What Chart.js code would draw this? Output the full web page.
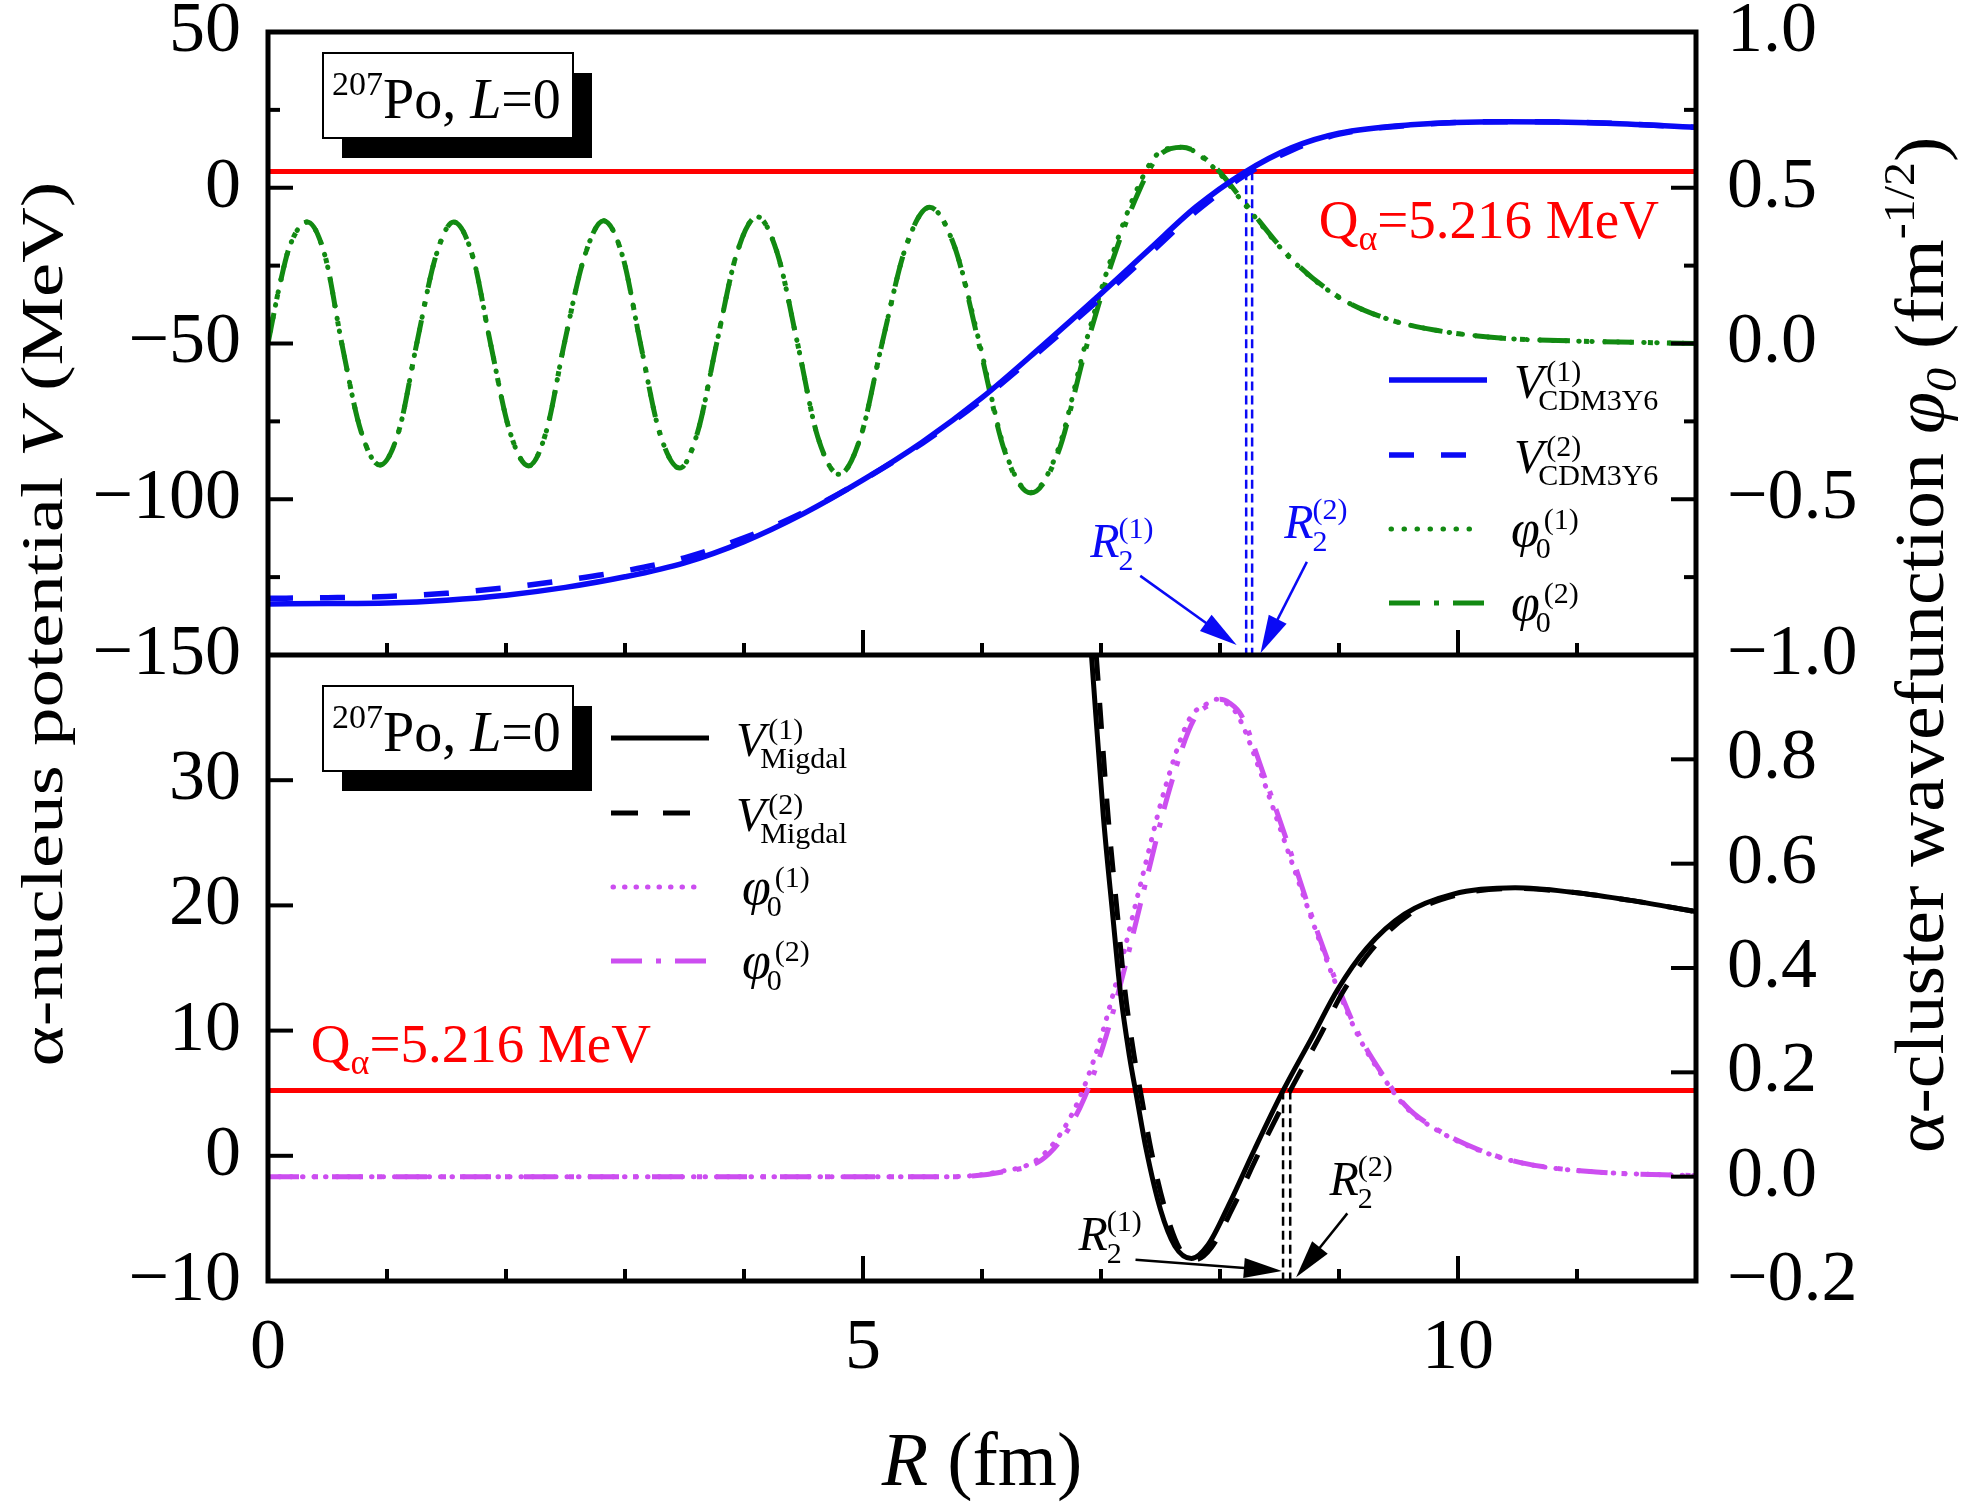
<!DOCTYPE html>
<html>
<head>
<meta charset="utf-8">
<script src="https://cdn.jsdelivr.net/npm/chart.js@4.4.1/dist/chart.umd.min.js"></script>
<style>
  html, body { margin: 0; padding: 0; background: #fff; }
  #wrap { width: 1965px; height: 1511px; }
</style>
</head>
<body>
<div id="wrap"><canvas id="chart" width="1965" height="1511"></canvas></div>
<script>
// values
const qAlpha = 5.216;

// upper panel, V_CDM3Y6 (MeV)
const rCdm = [0, 0.5, 1, 1.5, 2, 2.5, 3, 3.5, 4, 4.5, 5, 5.5, 6, 6.5, 7, 7.4, 7.8, 8.2, 8.6, 9.0, 9.6, 10.4, 11.2, 12];
const vCdm1 = [-133.6, -133.5, -133.3, -132.4, -130.8, -128.3, -124.9, -120.4, -113.6, -104.6, -93.8, -81.6, -67.4, -51.0, -34.0, -20.0, -6.1, 4.8, 12.8, 17.5, 20.2, 21.2, 20.8, 19.4];
const vCdm2 = [-131.8, -131.6, -131.2, -130.2, -128.4, -126.0, -123.0, -118.8, -112.4, -104.2, -93.8, -82.0, -68.0, -52.0, -35.3, -21.5, -7.6, 3.8, 12.0, 17.2, 20.1, 21.2, 20.8, 19.4];

// upper panel, phi_0 (fm^-1/2)
const rPhiTop = [0, 0.10, 0.18, 0.33, 0.48, 0.62, 0.78, 0.94, 1.10, 1.25, 1.41, 1.56, 1.72, 1.87, 2.03, 2.19, 2.34, 2.49, 2.66, 2.82, 2.98, 3.13, 3.29, 3.46, 3.61, 3.77, 3.94, 4.11, 4.28, 4.45, 4.62, 4.80, 4.98, 5.16, 5.36, 5.56, 5.77, 5.98, 6.19, 6.41, 6.64, 6.87, 7.10, 7.32, 7.48, 7.68, 7.96, 8.20, 8.59, 8.99, 9.39, 9.79, 10.38, 10.98, 12];
const phiTop1 = [0.00, 0.19, 0.31, 0.39, 0.28, 0.00, -0.28, -0.39, -0.28, 0.00, 0.28, 0.39, 0.28, 0.00, -0.28, -0.393, -0.28, 0.00, 0.28, 0.394, 0.28, 0.00, -0.285, -0.40, -0.285, 0.00, 0.29, 0.407, 0.29, 0.00, -0.30, -0.42, -0.30, 0.00, 0.31, 0.437, 0.31, 0.00, -0.34, -0.478, -0.34, 0.00, 0.29, 0.51, 0.61, 0.63, 0.56, 0.45, 0.274, 0.150, 0.081, 0.044, 0.017, 0.008, 0.0];
const phiTop2 = [0.00, 0.19, 0.31, 0.39, 0.28, 0.00, -0.28, -0.39, -0.28, 0.00, 0.28, 0.39, 0.28, 0.00, -0.28, -0.393, -0.28, 0.00, 0.28, 0.394, 0.28, 0.00, -0.285, -0.40, -0.285, 0.00, 0.29, 0.407, 0.29, 0.00, -0.30, -0.42, -0.30, 0.00, 0.31, 0.437, 0.31, -0.01, -0.345, -0.48, -0.35, -0.02, 0.27, 0.49, 0.60, 0.63, 0.565, 0.455, 0.276, 0.151, 0.081, 0.044, 0.017, 0.008, 0.0];

// lower panel, V_Migdal (MeV)
const rMig1 = [6.92, 7.02, 7.10, 7.16, 7.24, 7.30, 7.38, 7.50, 7.62, 7.76, 7.90, 8.07, 8.29, 8.53, 8.77, 8.99, 9.23, 9.55, 9.96, 10.48, 10.96, 11.45, 12];
const vMig1 = [40, 27.1, 19.1, 13.3, 7.9, 4.7, 0.5, -4.3, -7.2, -8.2, -7.1, -4.0, 0.5, 5.2, 9.4, 13.3, 16.55, 19.3, 20.9, 21.4, 21.05, 20.4, 19.5];
const rMig2 = [6.96, 7.06, 7.14, 7.20, 7.28, 7.34, 7.42, 7.54, 7.66, 7.79, 7.93, 8.11, 8.34, 8.59, 8.83, 9.04, 9.27, 9.58, 9.98, 10.48, 10.96, 11.45, 12];
const vMig2 = [40, 27.1, 19.1, 13.3, 7.9, 4.7, 0.5, -4.3, -7.4, -8.3, -7.3, -4.1, 0.5, 5.2, 9.4, 13.2, 16.4, 19.2, 20.8, 21.35, 21.05, 20.4, 19.5];

// lower panel, phi_0 (fm^-1/2)
const rPhiBot1 = [0, 3, 5.73, 6.13, 6.46, 6.66, 6.82, 6.98, 7.14, 7.34, 7.54, 7.74, 7.90, 7.97, 8.05, 8.15, 8.35, 8.55, 8.75, 8.95, 9.15, 9.35, 9.55, 9.76, 10.16, 10.56, 11.16, 12];
const phiBot1 = [0, 0, 0, 0.009, 0.032, 0.082, 0.151, 0.252, 0.383, 0.568, 0.746, 0.876, 0.908, 0.915, 0.908, 0.884, 0.769, 0.638, 0.507, 0.383, 0.275, 0.198, 0.136, 0.098, 0.052, 0.025, 0.009, 0.002];
const rPhiBot2 = [0, 3, 5.77, 6.17, 6.50, 6.70, 6.86, 7.02, 7.18, 7.38, 7.58, 7.78, 7.94, 8.00, 8.08, 8.18, 8.37, 8.57, 8.76, 8.96, 9.16, 9.36, 9.56, 9.77, 10.17, 10.57, 11.16, 12];
const phiBot2 = [0, 0, 0, 0.009, 0.032, 0.082, 0.151, 0.252, 0.383, 0.568, 0.746, 0.876, 0.908, 0.915, 0.908, 0.884, 0.769, 0.638, 0.507, 0.383, 0.275, 0.198, 0.136, 0.098, 0.052, 0.025, 0.009, 0.002];

// classical turning points R2(1), R2(2)
const r2Top = [8.22, 8.27];
const r2Bot = [8.53, 8.59];

// ticks
const xTicks = [0, 5, 10];
const xMinor = [1, 2, 3, 4, 6, 7, 8, 9, 11];
const vTopTicks = [50, 0, -50, -100, -150];
const vTopMinor = [25, -25, -75, -125];
const wTopTicks = [1.0, 0.5, 0.0, -0.5, -1.0];
const wTopMinor = [0.75, 0.25, -0.25, -0.75];
const vBotTicks = [30, 20, 10, 0, -10];
const wBotTicks = [0.8, 0.6, 0.4, 0.2, 0.0, -0.2];

const BLUE = '#0a0af5';
const GREEN = '#128a12';
const PINK = '#cc4ef0';
const RED = '#ff0000';
const SERIF = '"Liberation Serif", "Times New Roman", serif';

const pts = (xs, ys) => xs.map((x, i) => ({x, y: ys[i]}));
const minus = s => s.replace('-', '\u2212');

const line = (data, yAxisID, color, width, dash, cap) => ({
  data, yAxisID, borderColor: color, borderWidth: width,
  borderDash: dash || [], borderCapStyle: cap || 'butt',
  cubicInterpolationMode: 'monotone', pointRadius: 0, fill: false
});

const DOT_G = [0.5, 12.5];
const DASHDOT = [31, 14, 5, 14];
const DOT_P = [0.5, 11];

const datasets = [
  line(pts(rCdm, vCdm1), 'yT', BLUE, 5.5),
  line(pts(rCdm, vCdm2), 'yT', BLUE, 5.5, [25, 27]),
  line(pts(rPhiTop, phiTop1), 'rT', GREEN, 5, DOT_G, 'round'),
  line(pts(rPhiTop, phiTop2), 'rT', GREEN, 5, DASHDOT),
  line(pts(rMig1, vMig1), 'yB', '#000', 5),
  line(pts(rMig2, vMig2), 'yB', '#000', 5, [26, 22]),
  line(pts(rPhiBot1, phiBot1), 'rB', PINK, 5, DOT_P, 'round'),
  line(pts(rPhiBot2, phiBot2), 'rB', PINK, 5, DASHDOT),
  ...r2Top.map(r => line([{x: r, y: qAlpha}, {x: r, y: -150}], 'yT', BLUE, 2.5, [9, 5])),
  ...r2Bot.map(r => line([{x: r, y: qAlpha}, {x: r, y: -10}], 'yB', '#000', 2.5, [9, 5])),
  line([{x: 0, y: qAlpha}, {x: 12, y: qAlpha}], 'yT', RED, 5),
  line([{x: 0, y: qAlpha}, {x: 12, y: qAlpha}], 'yB', RED, 5)
];

function fixTicks(list) {
  return scale => { scale.ticks = list.map(v => ({value: v})); };
}
function fitWidth(w) {
  return scale => { scale.width = w; scale.paddingTop = 0; scale.paddingBottom = 0; };
}
const tickFont = {family: SERIF, size: 72, lineHeight: 1.0};
const yAxis = (pos, stack, weight, sw, min, max, list, fmt, pad, w) => ({
  type: 'linear', position: pos, stack, weight, stackWeight: sw, min, max,
  grid: {display: false, drawTicks: false}, border: {display: false},
  afterBuildTicks: fixTicks(list), afterFit: fitWidth(w),
  ticks: {font: tickFont, color: '#000', padding: pad, autoSkip: false, callback: fmt}
});

// text runs: [text, font, dx, dy]
function runsWidth(ctx, list) {
  let w = 0;
  for (const [t, f, dx = 0] of list) { ctx.font = f; w += dx + ctx.measureText(t).width; }
  return w;
}
function drawRuns(ctx, list, x, y) {
  let cx = x;
  for (const [t, f, dx = 0, dy = 0] of list) {
    ctx.font = f;
    ctx.fillText(t, cx + dx, y + dy);
    cx += dx + ctx.measureText(t).width;
  }
}
// symbol with stacked superscript and subscript
function symbol(ctx, x, y, sym, size, sup, sub, small, supDx, supDy, subDx, subDy) {
  ctx.font = 'italic ' + size + 'px ' + SERIF;
  ctx.fillText(sym, x, y);
  const w = ctx.measureText(sym).width;
  ctx.font = small + 'px ' + SERIF;
  ctx.fillText(sup, x + w + supDx, y + supDy);
  ctx.fillText(sub, x + w + subDx, y + subDy);
}
function arrow(ctx, x1, y1, x2, y2, color) {
  const a = Math.atan2(y2 - y1, x2 - x1), L = 38, W = 10;
  ctx.save();
  ctx.strokeStyle = color; ctx.fillStyle = color; ctx.lineWidth = 2.5; ctx.setLineDash([]);
  ctx.beginPath(); ctx.moveTo(x1, y1);
  ctx.lineTo(x2 - L * 0.9 * Math.cos(a), y2 - L * 0.9 * Math.sin(a)); ctx.stroke();
  ctx.beginPath(); ctx.moveTo(x2, y2);
  ctx.lineTo(x2 - L * Math.cos(a) + W * Math.sin(a), y2 - L * Math.sin(a) - W * Math.cos(a));
  ctx.lineTo(x2 - L * Math.cos(a) - W * Math.sin(a), y2 - L * Math.sin(a) + W * Math.cos(a));
  ctx.closePath(); ctx.fill();
  ctx.restore();
}
function sample(ctx, x1, x2, y, color, width, dash, cap) {
  ctx.save();
  ctx.strokeStyle = color; ctx.lineWidth = width; ctx.setLineDash(dash); ctx.lineCap = cap || 'butt';
  ctx.beginPath(); ctx.moveTo(x1, y); ctx.lineTo(x2, y); ctx.stroke();
  ctx.restore();
}
function nucleusBox(ctx, x, y) {
  ctx.fillStyle = '#000';
  ctx.fillRect(x + 19, y + 20, 250, 85);
  ctx.fillStyle = '#fff';
  ctx.fillRect(x, y, 250, 85);
  ctx.strokeStyle = '#000'; ctx.lineWidth = 2; ctx.setLineDash([]);
  ctx.strokeRect(x, y, 250, 85);
  ctx.fillStyle = '#000';
  drawRuns(ctx, [
    ['207', '34px ' + SERIF, 0, -23],
    ['Po, ', '56px ' + SERIF],
    ['L', 'italic 56px ' + SERIF],
    ['=0', '56px ' + SERIF]
  ], x + 9, y + 65);
}
function qLabel(ctx, x, y) {
  ctx.fillStyle = RED;
  drawRuns(ctx, [
    ['Q', '55px ' + SERIF],
    ['\u03b1', '36px ' + SERIF, 0, 12],
    ['=5.216 MeV', '55px ' + SERIF]
  ], x, y);
}
function r2Label(ctx, x, y, n, color) {
  ctx.fillStyle = color;
  ctx.font = 'italic 48px ' + SERIF;
  ctx.fillText('R', x, y);
  const w = ctx.measureText('R').width;
  ctx.font = '30px ' + SERIF;
  ctx.fillText('(' + n + ')', x + w - 1, y - 19);
  ctx.fillText('2', x + w - 1, y + 13);
}

const decorations = {
  id: 'decorations',
  afterDatasetsDraw(chart) {
    const {ctx, chartArea: a, scales: s} = chart;
    const mid = s.yT.bottom;
    ctx.save();
    ctx.textBaseline = 'alphabetic';
    ctx.textAlign = 'left';

    // frame
    ctx.strokeStyle = '#000'; ctx.lineWidth = 5; ctx.setLineDash([]); ctx.lineCap = 'butt';
    ctx.strokeRect(a.left, a.top, a.right - a.left, a.bottom - a.top);
    ctx.beginPath(); ctx.moveTo(a.left, mid); ctx.lineTo(a.right, mid); ctx.stroke();

    // inward ticks
    ctx.lineWidth = 4;
    const tick = (x1, y1, x2, y2) => { ctx.beginPath(); ctx.moveTo(x1, y1); ctx.lineTo(x2, y2); ctx.stroke(); };
    for (const [list, len] of [[xTicks, 25], [xMinor, 12]]) {
      for (const v of list) {
        const x = s.x.getPixelForValue(v);
        tick(x, a.bottom, x, a.bottom - len);
        tick(x, mid, x, mid - len);
      }
    }
    for (const [sc, list, len, side] of [
      [s.yT, vTopTicks, 25, 1], [s.yT, vTopMinor, 12, 1],
      [s.rT, wTopTicks, 25, -1], [s.rT, wTopMinor, 12, -1],
      [s.yB, vBotTicks, 25, 1], [s.rB, wBotTicks, 25, -1]
    ]) {
      const x0 = side > 0 ? a.left : a.right;
      for (const v of list) {
        const y = sc.getPixelForValue(v);
        tick(x0, y, x0 + side * len, y);
      }
    }

    // 207Po boxes
    nucleusBox(ctx, a.left + 55, a.top + 21);
    nucleusBox(ctx, a.left + 55, mid + 31);

    // Q_alpha labels
    qLabel(ctx, s.x.getPixelForValue(8.83), s.yT.getPixelForValue(-16.1));
    qLabel(ctx, s.x.getPixelForValue(0.36), s.yB.getPixelForValue(7.49));

    // turning point labels and arrows
    const px = v => s.x.getPixelForValue(v);
    arrow(ctx, px(7.33), s.yT.getPixelForValue(-124.6), px(8.14), s.yT.getPixelForValue(-146.8), BLUE);
    arrow(ctx, px(8.73), s.yT.getPixelForValue(-120.1), px(8.34), s.yT.getPixelForValue(-149.4), BLUE);
    r2Label(ctx, px(6.91), s.yT.getPixelForValue(-118.5), 1, BLUE);
    r2Label(ctx, px(8.54), s.yT.getPixelForValue(-112.4), 2, BLUE);
    arrow(ctx, px(7.29), s.yB.getPixelForValue(-8.3), px(8.52), s.yB.getPixelForValue(-9.2), '#000');
    arrow(ctx, px(9.07), s.yB.getPixelForValue(-4.6), px(8.64), s.yB.getPixelForValue(-9.7), '#000');
    r2Label(ctx, px(6.81), s.yB.getPixelForValue(-7.5), 1, '#000');
    r2Label(ctx, px(8.92), s.yB.getPixelForValue(-3.1), 2, '#000');

    // legends
    const lx1 = a.left + 1121, lx2 = lx1 + 98, tx = a.left + 1246;
    const rowsT = [348, 423, 497, 571].map(d => a.top + d);
    sample(ctx, lx1, lx2, rowsT[0], BLUE, 5.5, []);
    sample(ctx, lx1, lx2, rowsT[1], BLUE, 5.5, [25, 27]);
    sample(ctx, lx1 + 2, lx2 - 8, rowsT[2], GREEN, 5, DOT_G, 'round');
    sample(ctx, lx1, lx2, rowsT[3], GREEN, 5, DASHDOT);
    ctx.fillStyle = '#000';
    symbol(ctx, tx, rowsT[0] + 18, 'V', 48, '(1)', 'CDM3Y6', 30, 3, -17, -5, 12);
    symbol(ctx, tx, rowsT[1] + 18, 'V', 48, '(2)', 'CDM3Y6', 30, 3, -17, -5, 12);
    symbol(ctx, tx - 3, rowsT[2] + 17, '\u03c6', 52, '(1)', '0', 30, 4, -17, -4, 12);
    symbol(ctx, tx - 3, rowsT[3] + 17, '\u03c6', 52, '(2)', '0', 30, 4, -17, -4, 12);

    const bx1 = a.left + 343, bx2 = bx1 + 98, btx = a.left + 468;
    const rowsB = [83, 158, 232, 306].map(d => mid + d);
    sample(ctx, bx1, bx2, rowsB[0], '#000', 5, []);
    sample(ctx, bx1, bx2, rowsB[1], '#000', 5, [27, 25]);
    sample(ctx, bx1 + 2, bx2 - 8, rowsB[2], PINK, 5, DOT_P, 'round');
    sample(ctx, bx1, bx2, rowsB[3], PINK, 5, DASHDOT);
    ctx.fillStyle = '#000';
    symbol(ctx, btx, rowsB[0] + 18, 'V', 48, '(1)', 'Migdal', 30, 3, -17, -5, 12);
    symbol(ctx, btx, rowsB[1] + 18, 'V', 48, '(2)', 'Migdal', 30, 3, -17, -5, 12);
    symbol(ctx, btx + 6, rowsB[2] + 17, '\u03c6', 52, '(1)', '0', 30, 4, -17, -4, 12);
    symbol(ctx, btx + 6, rowsB[3] + 17, '\u03c6', 52, '(2)', '0', 30, 4, -17, -4, 12);

    // axis titles
    ctx.fillStyle = '#000';
    const xt = [['R', 'italic 76px ' + SERIF], [' (fm)', '76px ' + SERIF]];
    drawRuns(ctx, xt, (a.left + a.right) / 2 - runsWidth(ctx, xt) / 2, 1485);

    const lt = [['\u03b1-nucleus potential ', '77px ' + SERIF], ['V', 'italic 77px ' + SERIF], [' (MeV)', '77px ' + SERIF]];
    ctx.save();
    ctx.translate(62, 624); ctx.rotate(-Math.PI / 2); ctx.scale(1, 0.78);
    drawRuns(ctx, lt, -runsWidth(ctx, lt) / 2, 0);
    ctx.restore();

    const rt = [
      ['\u03b1-cluster wavefunction ', '76px ' + SERIF],
      ['\u03c6', 'italic 76px ' + SERIF],
      ['0', 'italic 48px ' + SERIF, 0, 14],
      [' (fm', '76px ' + SERIF],
      ['-1/2', '48px ' + SERIF, 0, -32],
      [')', '76px ' + SERIF]
    ];
    ctx.save();
    ctx.translate(1943, 645); ctx.rotate(-Math.PI / 2); ctx.scale(1, 0.92);
    drawRuns(ctx, rt, -runsWidth(ctx, rt) / 2, 0);
    ctx.restore();

    ctx.restore();
  }
};

const whiteBg = {
  id: 'whiteBg',
  beforeDraw(chart) {
    const {ctx, width, height} = chart;
    ctx.save(); ctx.fillStyle = '#fff'; ctx.fillRect(0, 0, width, height); ctx.restore();
  }
};

new Chart(document.getElementById('chart'), {
  type: 'line',
  data: {datasets},
  plugins: [whiteBg, decorations],
  options: {
    responsive: false,
    animation: false,
    devicePixelRatio: 1,
    layout: {padding: {top: 32, left: 0, right: 0, bottom: 0}},
    plugins: {legend: {display: false}, tooltip: {enabled: false}},
    scales: {
      x: {
        type: 'linear', position: 'bottom', min: 0, max: 12,
        grid: {display: false, drawTicks: false}, border: {display: false},
        afterBuildTicks: fixTicks(xTicks),
        afterFit: scale => { scale.height = 230; scale.paddingLeft = 0; scale.paddingRight = 0; },
        ticks: {font: tickFont, color: '#000', padding: 32, autoSkip: false, maxRotation: 0}
      },
      yT: yAxis('left', 'L', 2, 623, -150, 50, vTopTicks, v => minus(String(v)), 27, 268),
      yB: yAxis('left', 'L', 1, 626, -10, 40, vBotTicks, v => minus(String(v)), 27, 268),
      rT: yAxis('right', 'R', 1, 623, -1, 1, wTopTicks, v => minus(v.toFixed(1)), 31, 269),
      rB: yAxis('right', 'R', 2, 626, -0.2, 1, wBotTicks, v => minus(v.toFixed(1)), 31, 269)
    }
  }
});
</script>
</body>
</html>
